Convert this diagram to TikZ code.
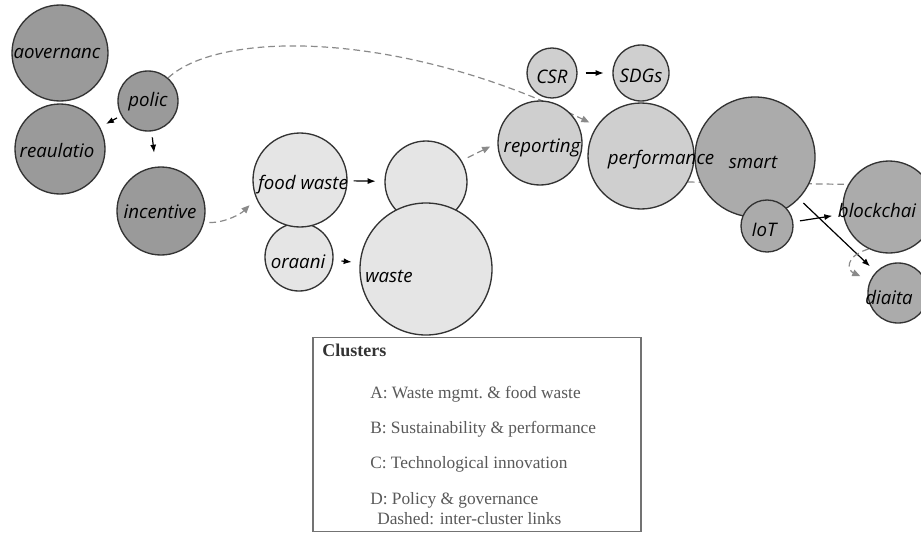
\documentclass[tikz,border=0pt]{standalone}
\usepackage{fontspec}
\setmainfont{Liberation Serif}
\newfontfamily\handfont{Open Sans}
\usepackage{tikz}
\usetikzlibrary{arrows.meta,backgrounds}
\definecolor{clA}{HTML}{E5E5E5}
\definecolor{clB}{HTML}{CFCFCF}
\definecolor{clC}{HTML}{ABABAB}
\definecolor{clD}{HTML}{9A9A9A}
\definecolor{linkgray}{HTML}{8A8A8A}
% name/x/y/radius/label/fill/label dx/label dy (pixel units)
\def\bubbles{gov/60/53/48/aovernanc/clD/-3/0,
             regul/60/149/45/reaulatio/clD/-3/1,
             policy/148/101/30/polic/clD/0/1,
             incent/161/211/44/incentive/clD/-1/1,
             organi/299/257/34/oraani/clA/-1/5,
             food/300/180/47/{food waste}/clA/3/5,
             wtop/426/182/41/{}/clA/0/0,
             waste/426/269/66/waste/clA/-37/7,
             report/540/143/42/reporting/clB/2/5,
             csr/552/73/25/CSR/clB/0/4,
             sdgs/641/73/28/SDGs/clB/0/3,
             perf/641/156/53/performance/clB/20/4,
             smart/755/157/60/smart/clC/-2/5,
             iot/767/226/26/IoT/clC/-3/4,
             block/889/207/46/blockchai/clC/-12/3,
             digit/898/293/30/diaita/clC/-9/4}

\begin{document}
\begin{tikzpicture}[x=0.75pt,y=-0.75pt,
  bubble/.style={circle,draw=black!80,line width=1pt,inner sep=0pt},
  tag/.style={font=\handfont\itshape\fontsize{14}{14}\selectfont,inner sep=0pt},
  arr/.style={-{Latex[length=6pt,width=4.5pt]},line width=0.9pt},
  link/.style={linkgray,line width=0.9pt,dash pattern=on 5pt off 3pt},
  linkarr/.style={link,-{Triangle[length=6pt,width=5pt]}},
  legframe/.style={draw=black!55,line width=0.8pt,fill=white,inner sep=0pt},
  legtxt/.style={text=black!65,font=\fontsize{13}{13}\selectfont,inner sep=0pt,anchor=west}]
  \useasboundingbox (0,0) rectangle (921,536);

  % circles first, labels on top
  \foreach \n/\x/\y/\r/\t/\c/\dx/\dy in \bubbles
    \node[bubble,fill=\c,minimum size=\r*1.5pt] (\n) at (\x,\y) {};
  \foreach \n/\x/\y/\r/\t/\c/\dx/\dy in \bubbles
    \node[tag] (\n-t) at (\x+\dx,\y+\dy) {\t};

  \begin{scope}[on background layer]
    % inside clusters
    \draw[arr,shorten <=3.5pt,shorten >=5pt] (policy) -- (regul);
    \draw[arr,shorten <=4.5pt,shorten >=10.5pt] (policy) -- (incent);
    \draw[arr,shorten <=4.5pt,shorten >=6.5pt] (food) -- (wtop);
    \draw[arr,shorten <=6pt,shorten >=6pt] (organi) -- (waste);
    \draw[arr,shorten <=6pt,shorten >=6.5pt] (csr) -- (sdgs);
    \draw[arr,shorten <=5pt,shorten >=8pt] (iot) -- (block);
    \draw[arr,shorten <=4.5pt,shorten >=6pt] (smart) -- (digit);
    % inter-cluster links
    \draw[linkarr,shorten >=6pt] (policy.49) .. controls (220,30) and (400,30) .. (perf.146);
    \draw[linkarr,shorten <=4pt,shorten >=7pt] (incent.-15) .. controls +(22,0) and +(-15,15) .. (food.203);
    \draw[linkarr,shorten <=5pt,shorten >=6pt] (wtop.31) -- (report.180);
    \draw[link] (perf.-29) -- (block.151);
    \draw[linkarr,shorten >=8pt] (block.244) .. controls +(-25,8) and +(-22,-10) .. (digit.156);
  \end{scope}

  % legend
  \node[legframe,minimum width=246pt,minimum height=146pt] (legend) at (477,434.5) {};
  \node[legtxt,text=black!80,font=\bfseries\fontsize{13.5}{13.5}\selectfont] (leg-head) at (322,350) {Clusters};
  \foreach \n/\x/\y/\t in {a/370/394/{A: Waste mgmt.\ \& food waste},
                           b/370/429/{B: Sustainability \& performance},
                           c/370/464/{C: Technological innovation},
                           d/370/500/{D: Policy \& governance},
                           e/377/519/{Dashed: inter-cluster links}}
    \node[legtxt] (leg-\n) at (\x,\y) {\t};
\end{tikzpicture}
\end{document}
